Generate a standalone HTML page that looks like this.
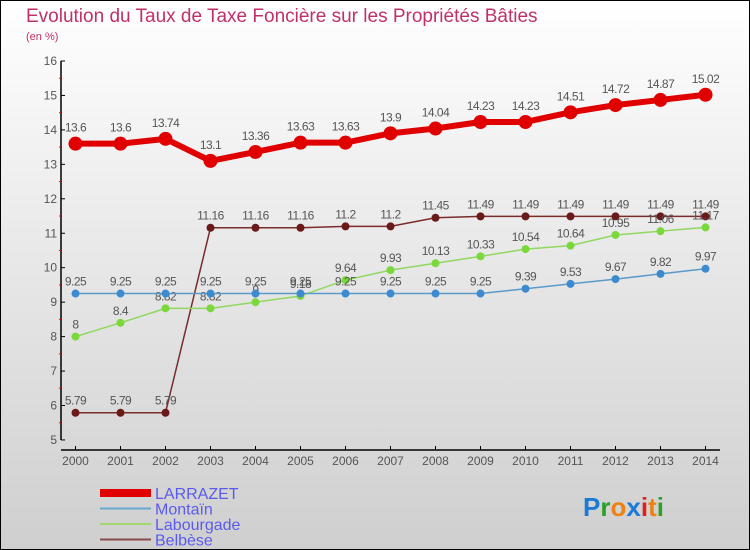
<!DOCTYPE html>
<html><head><meta charset="utf-8"><style>
body{margin:0;width:750px;height:550px;overflow:hidden;font-family:"Liberation Sans",sans-serif}
#wrap{position:absolute;left:0;top:0;width:748px;height:548px;border:1px solid #000;background:linear-gradient(#fff,#f0f0f0 30%,#cfcfcf)}
</style></head><body>
<div id="wrap">
<svg id="svg" width="750" height="550" style="position:absolute;left:-1px;top:-1px">
<text x="26" y="22" font-size="19" fill="#c0306a">Evolution du Taux de Taxe Foncière sur les Propriétés Bâties</text>
<text x="26" y="40" font-size="11" fill="#c0306a">(en %)</text>
</svg>
</div>
<script>
const years=[2000,2001,2002,2003,2004,2005,2006,2007,2008,2009,2010,2011,2012,2013,2014];
const larrazet=[13.6,13.6,13.74,13.1,13.36,13.63,13.63,13.9,14.04,14.23,14.23,14.51,14.72,14.87,15.02];
const montain=[9.25,9.25,9.25,9.25,9.25,9.25,9.25,9.25,9.25,9.25,9.39,9.53,9.67,9.82,9.97];
const labourgade=[8,8.4,8.82,8.82,9,9.18,9.64,9.93,10.13,10.33,10.54,10.64,10.95,11.06,11.17];
const belbese=[5.79,5.79,5.79,11.16,11.16,11.16,11.2,11.2,11.45,11.49,11.49,11.49,11.49,11.49,11.49];
const yTicks=[5,6,7,8,9,10,11,12,13,14,15,16];
const svg=document.getElementById('svg');
const NS='http://www.w3.org/2000/svg';
const X=i=>75.5+i*45, Y=v=>61+(16-v)*34.45;
function mk(t,a,p){const e=document.createElementNS(NS,t);for(const k in a)e.setAttribute(k,a[k]);(p||svg).appendChild(e);return e;}
let ax=mk('g',{});


mk('line',{x1:61,y1:61,x2:61,y2:440,stroke:'#000','stroke-width':1.5},ax);
yTicks.forEach(v=>{mk('line',{x1:61,y1:Y(v),x2:65,y2:Y(v),stroke:'#000'},ax);
 if(v<16)mk('line',{x1:59,y1:Y(v+0.5),x2:61,y2:Y(v+0.5),stroke:'red'},ax);
 const t=mk('text',{x:57,y:Y(v)+4,'font-size':12,fill:'#555','text-anchor':'end'},ax);t.textContent=v;});
let xa=mk('g',{});


mk('line',{x1:61,y1:450,x2:720,y2:450,stroke:'#000','stroke-width':1.5},xa);
years.forEach((y,i)=>{mk('line',{x1:X(i),y1:446,x2:X(i),y2:450,stroke:'#000'},xa);
 const t=mk('text',{x:X(i),y:465,'font-size':12,fill:'#555','text-anchor':'middle'},xa);t.textContent=y;});
function series(name,vals,color,w,r,dot,off){
 const g=mk('g',{});
 
 
 mk('polyline',{points:vals.map((v,i)=>X(i)+','+Y(v)).join(' '),fill:'none',stroke:color,'stroke-width':w,'stroke-linejoin':'round'},g);
 vals.forEach((v,i)=>{const c=mk('circle',{cx:X(i),cy:Y(v),r:r,fill:dot},g);
  
  
  const t=mk('text',{x:X(i),y:Y(v)-off,'font-size':12,fill:'#555','text-anchor':'middle','letter-spacing':'-0.5'},g);t.textContent=v;});
}
series('belbese',belbese,'#7a2b2b',1.5,4,'#6b1a1a',8);
series('labourgade',labourgade,'#90d860',1.5,4,'#7ad83a',8);
series('montain',montain,'#5a9ac8',1.5,4,'#3c8ad0',8);
series('larrazet',larrazet,'#e00000',6,7,'#e00000',12);
const leg=[['LARRAZET','#e00000',8],['Montaïn','#6aa8d0',2],['Labourgade','#a0d870',2],['Belbèse','#8a4a4a',2]];
leg.forEach((l,i)=>{const g=mk('g',{});
 
 
 const y=493+i*15.5;
 mk('line',{x1:100,y1:y,x2:151,y2:y,stroke:l[1],'stroke-width':l[2]},g);
 const t=mk('text',{x:155,y:y+6,'font-size':16,fill:'#5a5af0'},g);t.textContent=l[0];});
const lg=mk('text',{x:583,y:516,'font-size':26,'font-weight':'bold'});


[['P','#1a7ad8'],['r','#2aa02a'],['o','#f08010'],['x','#1a7ad8'],['i','#e02020'],['t','#f08010'],['i','#2aa02a']].forEach(c=>{const s=mk('tspan',{fill:c[1]},lg);s.textContent=c[0];});
</script>
</body></html>
